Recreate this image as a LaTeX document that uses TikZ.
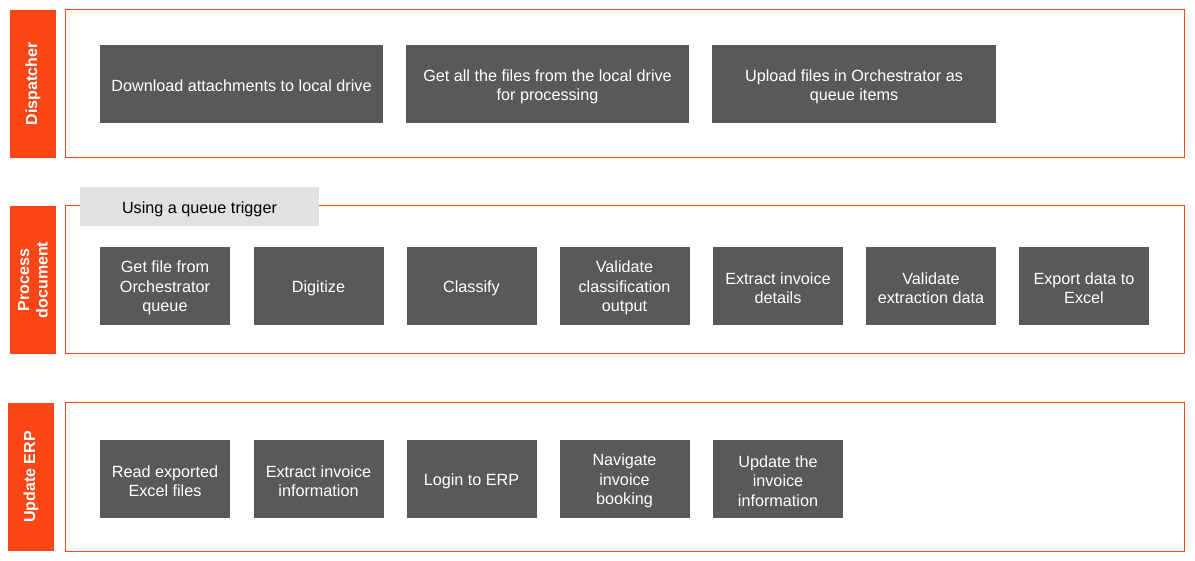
\documentclass[tikz,border=0pt]{standalone}
\usepackage{fontspec}
\setmainfont{Liberation Sans}
\definecolor{orng}{HTML}{FC4616}
\definecolor{boxg}{HTML}{58595B}
\definecolor{lightg}{HTML}{DFE1E3}
\begin{document}
\begin{tikzpicture}[x=1pt,y=-1pt,
  lane/.style={fill=orng,draw=none,text=white,font=\fontsize{16}{18.5}\selectfont\bfseries,align=center},
  frame/.style={draw=orng,line width=1pt,fill=none},
  stepbox/.style={fill=boxg,draw=none,inner sep=0pt},
  steptext/.style={text=white,font=\fontsize{16.2}{19.3}\selectfont,align=center,inner sep=0pt},
  tag/.style={fill=lightg,draw=none,inner sep=0pt}]
\useasboundingbox (0,0) rectangle (1195,561);
% frames
\draw[frame] (65,10) rectangle (1184,158);
\draw[frame] (65,206) rectangle (1184,354);
\draw[frame] (65,403) rectangle (1184,551);
% lane labels
\fill[orng] (10,10) rectangle (56,158);
\node[lane,rotate=90] (l1) at (33,84) {Dispatcher};
\fill[orng] (10,206) rectangle (56,354);
\node[lane,rotate=90] (l2) at (33,280) {Process\\document};
\fill[orng] (8,403) rectangle (54,551);
\node[lane,rotate=90] (l3) at (31,477) {Update ERP};
% row 1
\node[stepbox,minimum width=283,minimum height=78] (a1) at (241.5,84) {};
\node[stepbox,minimum width=283,minimum height=78] (a2) at (547.5,84) {};
\node[stepbox,minimum width=284,minimum height=78] (a3) at (854,84) {};
\node[steptext] (a1t) at ([yshift=-2pt]a1.center) {Download attachments to local drive};
\node[steptext] (a2t) at ([yshift=-2.5pt]a2.center) {Get all the files from the local drive\\for processing};
\node[steptext] (a3t) at ([yshift=-2.5pt]a3.center) {Upload files in Orchestrator as\\queue items};
% queue trigger
\node[tag,minimum width=239,minimum height=39] (q) at (199.5,206.5) {};
\node[steptext,text=black] (qt) at ([yshift=-2.5pt]q.center) {Using a queue trigger};
% row 2
\foreach \n/\x/\t in {b1/165/{Get file from\\Orchestrator\\queue},b2/318.5/{Digitize},b3/471.5/{Classify},b4/624.5/{Validate\\classification\\output},b5/778/{Extract invoice\\details},b6/931/{Validate\\extraction data},b7/1084/{Export data to\\Excel}}{
  \node[stepbox,minimum width=130,minimum height=78] (\n) at (\x,286) {};
  \node[steptext] (\n t) at ([yshift=-2pt]\n.center) {\t};
}
% row 3
\foreach \n/\x/\t in {c1/165/{Read exported\\Excel files},c2/318.5/{Extract invoice\\information},c3/471.5/{Login to ERP},c4/624.5/{Navigate\\invoice\\booking},c5/778/{Update the\\invoice\\information}}{
  \node[stepbox,minimum width=130,minimum height=78] (\n) at (\x,479) {};
  \node[steptext] (\n t) at ([yshift=-2pt]\n.center) {\t};
}
\end{tikzpicture}
\end{document}
